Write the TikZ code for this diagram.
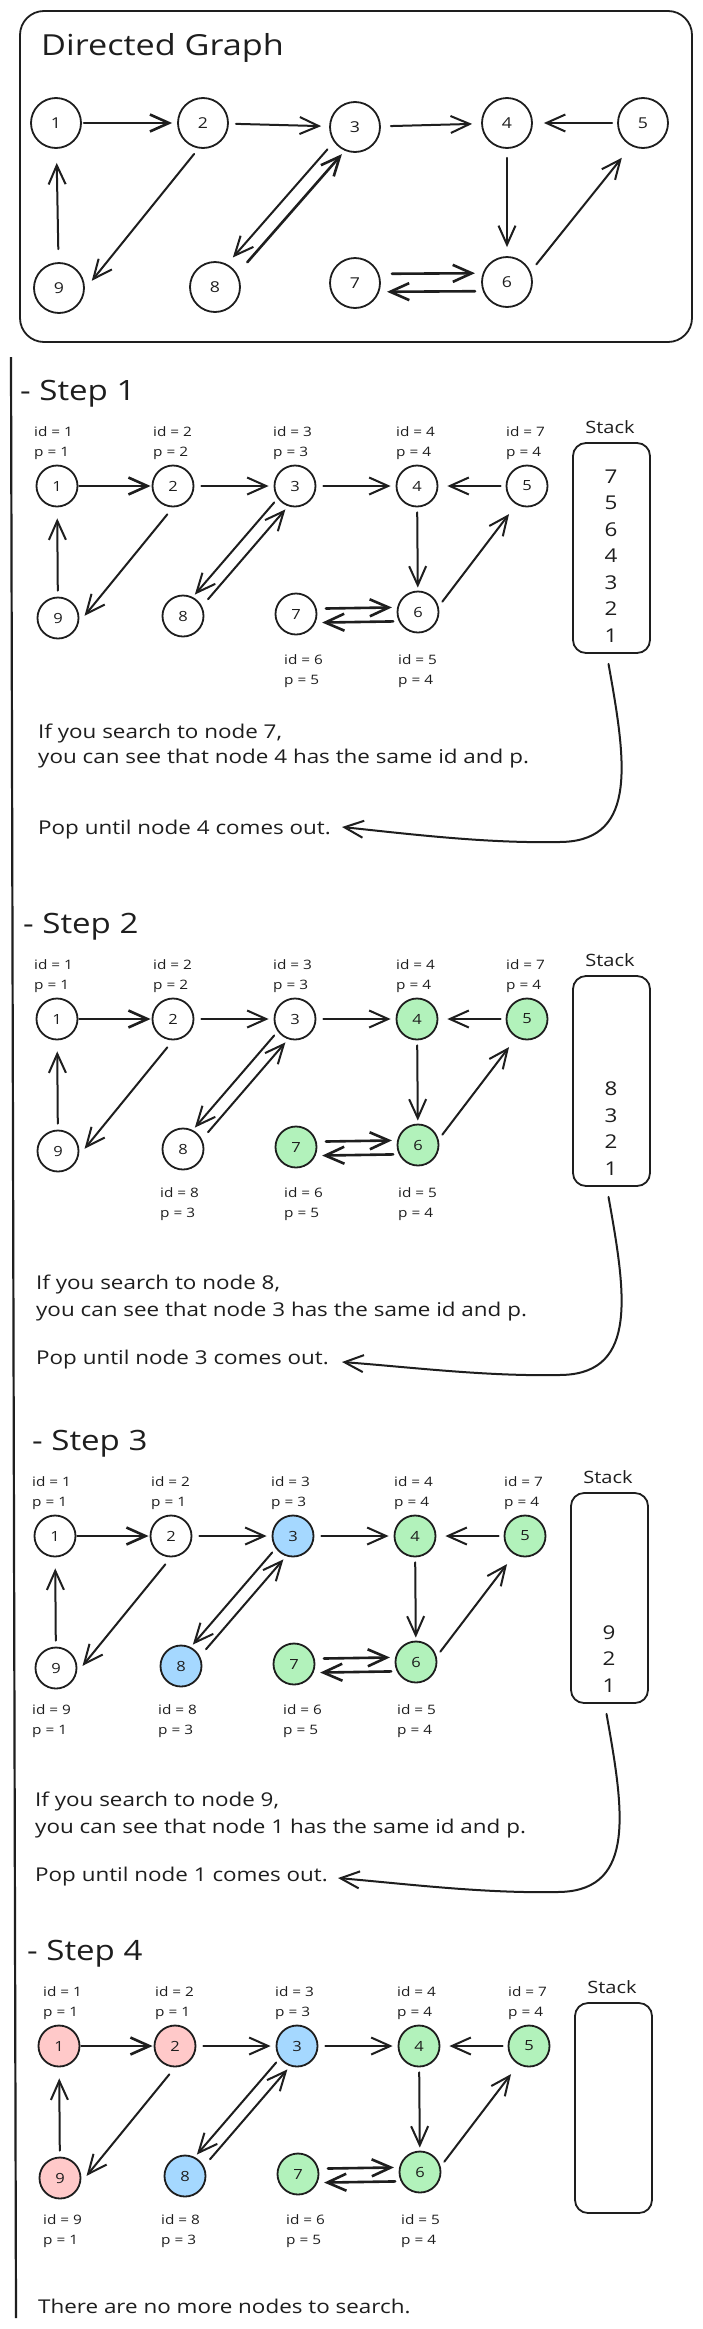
\documentclass[tikz,border=0pt]{standalone}
\usepackage{fontspec}
\setmainfont{Open Sans}[FakeStretch=1.18]
\usetikzlibrary{arrows.meta,calc}
\definecolor{ink}{HTML}{1E1E1E}
\definecolor{gfill}{HTML}{B2F2BB}
\definecolor{bfill}{HTML}{A5D8FF}
\definecolor{rfill}{HTML}{FFC9C9}
\newcommand{\myfs}[1]{\fontsize{#1}{#1}\selectfont}
\tikzset{
  gn/.style={circle, draw=ink, line width=1.8pt, minimum size=41pt, inner sep=0pt, font=\myfs{14}, text=ink},
  tn/.style={gn, minimum size=50pt, font=\myfs{15}},
  ar/.style={draw=ink, line width=2pt, line cap=round, -{Straight Barb[length=19pt,width=17pt]}, shorten <=5pt, shorten >=5pt},
  ard/.style={ar, line width=2.6pt},
  lab/.style={anchor=base west, inner sep=0pt, font=\myfs{13}, text=ink},
  txt/.style={anchor=base west, inner sep=0pt, font=\myfs{19}, text=ink},
  hd/.style={anchor=base west, inner sep=0pt, font=\myfs{28}, text=ink},
  sti/.style={anchor=base, inner sep=0pt, font=\myfs{19}, text=ink},
  stl/.style={anchor=base, inner sep=0pt, font=\myfs{17}, text=ink},
  stackbox/.style={draw=ink, line width=1.8pt, rounded corners=13pt, minimum width=77pt, minimum height=210pt, inner sep=0pt},
}
\newcommand{\stepgraph}[4]{%
  \node[gn,fill=#2] (#1n1) at (57,96) {1};
  \node[gn,fill=#2] (#1n2) at (173,96) {2};
  \node[gn,fill=#3] (#1n3) at (295,96) {3};
  \node[gn,fill=#4] (#1n4) at (417,96) {4};
  \node[gn,fill=#4] (#1n5) at (527,96) {5};
  \node[gn,fill=#4] (#1n6) at (418,222) {6};
  \node[gn,fill=#4] (#1n7) at (296,224) {7};
  \node[gn,fill=#3] (#1n8) at (183,226) {8};
  \node[gn,fill=#2] (#1n9) at (58,228) {9};
  \draw[ard, shorten <=1pt, shorten >=1pt] (#1n1) -- (#1n2);
  \draw[ar, shorten <=7pt, shorten >=5pt] (#1n2) -- (#1n3);
  \draw[ar, shorten <=7pt, shorten >=5pt] (#1n3) -- (#1n4);
  \draw[ar, shorten <=5pt, shorten >=9pt] (#1n5) -- (#1n4);
  \draw[ar, shorten <=5pt, shorten >=3pt] (#1n4) -- (#1n6);
  \draw[ar, shorten <=6pt, shorten >=12pt] (#1n6.15) -- (#1n5.-120);
  \draw[ar, shorten <=6pt, shorten >=11pt] (#1n9) -- (#1n1);
  \draw[ar, shorten <=9pt, shorten >=9pt] (#1n2.south) -- (#1n9.-13);
  \draw[ar, shorten <=26pt, shorten >=24pt] ($(#1n3)!5pt!-90:(#1n8)$) -- ($(#1n8)!5pt!90:(#1n3)$);
  \draw[ar, shorten <=29pt, shorten >=24pt] ($(#1n8)!8pt!-90:(#1n3)$) -- ($(#1n3)!8pt!90:(#1n8)$);
  \draw[ard, shorten <=30pt, shorten >=26pt] ($(#1n7)!5pt!90:(#1n6)$) -- ($(#1n6)!5pt!-90:(#1n7)$);
  \draw[ard, shorten <=25pt, shorten >=26pt] ($(#1n6)!9pt!90:(#1n7)$) -- ($(#1n7)!9pt!-90:(#1n6)$);
}
\newcommand{\idp}[5]{%
  \node[lab] (#1i) at (#2,#3) {id = #4};
  \node[lab] (#1p) at (#2,#3+20) {p = #5};
}
\begin{document}
\begin{tikzpicture}[x=1pt,y=-1pt]
\useasboundingbox (0,0) rectangle (703,2329);
\fill[white] (0,0) rectangle (703,2329);

% ---------- directed graph ----------
\draw[draw=ink, line width=1.8pt, rounded corners=24pt] (20,11) rectangle (692,342);
\node[hd, font=\myfs{29}] (title) at (41,55) {Directed Graph};
\node[tn] (t1) at (56,123) {1};
\node[tn] (t2) at (203,123) {2};
\node[tn] (t3) at (355,127) {3};
\node[tn] (t4) at (507,123) {4};
\node[tn] (t5) at (643,123) {5};
\node[tn] (t6) at (507,282) {6};
\node[tn] (t7) at (355,283) {7};
\node[tn] (t8) at (215,287) {8};
\node[tn] (t9) at (59,288) {9};
\draw[ard, shorten <=2pt, shorten >=5pt] (t1) -- (t2);
\draw[ar, shorten <=7pt, shorten >=8pt] (t2) -- (t3);
\draw[ar, shorten <=10pt, shorten >=9pt] (t3) -- (t4);
\draw[ar, shorten <=5pt, shorten >=11pt] (t5) -- (t4);
\draw[ar, shorten <=9pt, shorten >=9pt] (t4) -- (t6);
\draw[ar, shorten <=9pt, shorten >=15pt] (t6.24) -- (t5.-117);
\draw[ar, shorten <=13pt, shorten >=14pt] (t9) -- (t1);
\draw[ar, shorten <=7pt, shorten >=11pt] (t2.-100) -- (t9.-3);
\draw[ar, shorten <=35pt, shorten >=34pt] ($(t3)!6pt!-90:(t8)$) -- ($(t8)!6pt!90:(t3)$);
\draw[ard, shorten <=40pt, shorten >=29pt] ($(t8)!8pt!-90:(t3)$) -- ($(t3)!8pt!90:(t8)$);
\draw[ard, shorten <=37pt, shorten >=32pt] ($(t7)!9pt!90:(t6)$) -- ($(t6)!9pt!-90:(t7)$);
\draw[ard, shorten <=32pt, shorten >=32pt] ($(t6)!9pt!90:(t7)$) -- ($(t7)!9pt!-90:(t6)$);

% ---------- left rule ----------
\draw[draw=ink, line width=2.2pt] (11,357) -- (16,2318);

% ---------- step 1 ----------
\begin{scope}[shift={(0,390)}]
\node[hd] (h1) at (20,10) {- Step 1};
\stepgraph{a}{white}{white}{white}
\idp{a1}{34}{46}{1}{1}
\idp{a2}{153}{46}{2}{2}
\idp{a3}{273}{46}{3}{3}
\idp{a4}{396}{46}{4}{4}
\idp{a5}{506}{46}{7}{4}
\idp{a7}{284}{274}{6}{5}
\idp{a6}{398}{274}{5}{4}
\node[stl] (ast) at (610,43) {Stack};
\node[stackbox] (abox) at (611.5,158) {};
\node[sti] (as7) at (611,252-6*26.5) {7};
\node[sti] (as5) at (611,252-5*26.5) {5};
\node[sti] (as6) at (611,252-4*26.5) {6};
\node[sti] (as4) at (611,252-3*26.5) {4};
\node[sti] (as3) at (611,252-2*26.5) {3};
\node[sti] (as2) at (611,252-1*26.5) {2};
\node[sti] (as1) at (611,252) {1};
\node[txt] (at1) at (38,348) {If you search to node 7,};
\node[txt] (at2) at (38,373) {you can see that node 4 has the same id and p.};
\node[txt] (at3) at (38,444) {Pop until node 4 comes out.};
\end{scope}
\coordinate (aS) at ($(abox.south)+(-3,10)$);
\coordinate (aE) at (342,827);
\draw[ar, shorten <=0pt, shorten >=0pt] (aS) .. controls ($(aS)+(17,95)$) and ($(aS)+(30,175)$) .. ($(aS)+(-45,178)$) .. controls ($(aS)+(-120,180)$) and ($(aS)+(-200,170)$) .. (aE);

% ---------- step 2 ----------
\begin{scope}[shift={(0,923)}]
\node[hd] (h2) at (23,10) {- Step 2};
\stepgraph{b}{white}{white}{gfill}
\idp{b1}{34}{46}{1}{1}
\idp{b2}{153}{46}{2}{2}
\idp{b3}{273}{46}{3}{3}
\idp{b4}{396}{46}{4}{4}
\idp{b5}{506}{46}{7}{4}
\idp{b8}{160}{274}{8}{3}
\idp{b7}{284}{274}{6}{5}
\idp{b6}{398}{274}{5}{4}
\node[stl] (bst) at (610,43) {Stack};
\node[stackbox] (bbox) at (611.5,158) {};
\node[sti] (bs8) at (611,252-3*26.5) {8};
\node[sti] (bs3) at (611,252-2*26.5) {3};
\node[sti] (bs2) at (611,252-1*26.5) {2};
\node[sti] (bs1) at (611,252) {1};
\node[txt] (bt1) at (36,366) {If you search to node 8,};
\node[txt] (bt2) at (36,393) {you can see that node 3 has the same id and p.};
\node[txt] (bt3) at (36,441) {Pop until node 3 comes out.};
\end{scope}
\coordinate (bS) at ($(bbox.south)+(-3,10)$);
\coordinate (bE) at (342,1362);
\draw[ar, shorten <=0pt, shorten >=0pt] (bS) .. controls ($(bS)+(17,95)$) and ($(bS)+(30,175)$) .. ($(bS)+(-45,178)$) .. controls ($(bS)+(-120,180)$) and ($(bS)+(-200,170)$) .. (bE);

% ---------- step 3 ----------
\begin{scope}[shift={(-2,1440)}]
\node[hd] (h3) at (34,10) {- Step 3};
\stepgraph{c}{white}{bfill}{gfill}
\idp{c1}{34}{46}{1}{1}
\idp{c2}{153}{46}{2}{1}
\idp{c3}{273}{46}{3}{3}
\idp{c4}{396}{46}{4}{4}
\idp{c5}{506}{46}{7}{4}
\idp{c9}{34}{274}{9}{1}
\idp{c8}{160}{274}{8}{3}
\idp{c7}{285}{274}{6}{5}
\idp{c6}{399}{274}{5}{4}
\node[stl] (cst) at (610,43) {Stack};
\node[stackbox] (cbox) at (611.5,158) {};
\node[sti] (cs9) at (611,252-2*26.5) {9};
\node[sti] (cs2) at (611,252-1*26.5) {2};
\node[sti] (cs1) at (611,252) {1};
\node[txt] (ct1) at (37,366) {If you search to node 9,};
\node[txt] (ct2) at (37,393) {you can see that node 1 has the same id and p.};
\node[txt] (ct3) at (37,441) {Pop until node 1 comes out.};
\end{scope}
\coordinate (cS) at ($(cbox.south)+(-3,10)$);
\coordinate (cE) at (338,1878);
\draw[ar, shorten <=0pt, shorten >=0pt] (cS) .. controls ($(cS)+(17,95)$) and ($(cS)+(30,175)$) .. ($(cS)+(-45,178)$) .. controls ($(cS)+(-120,180)$) and ($(cS)+(-200,170)$) .. (cE);

% ---------- step 4 ----------
\begin{scope}[shift={(2,1950)}]
\node[hd] (h4) at (25,10) {- Step 4};
\stepgraph{d}{rfill}{bfill}{gfill}
\idp{d1}{41}{46}{1}{1}
\idp{d2}{153}{46}{2}{1}
\idp{d3}{273}{46}{3}{3}
\idp{d4}{395}{46}{4}{4}
\idp{d5}{506}{46}{7}{4}
\idp{d9}{41}{274}{9}{1}
\idp{d8}{159}{274}{8}{3}
\idp{d7}{284}{274}{6}{5}
\idp{d6}{399}{274}{5}{4}
\node[stl] (dst) at (610,43) {Stack};
\node[stackbox] (dbox) at (611.5,158) {};
\node[txt] (dt1) at (36,363) {There are no more nodes to search.};
\end{scope}
\end{tikzpicture}
\end{document}
